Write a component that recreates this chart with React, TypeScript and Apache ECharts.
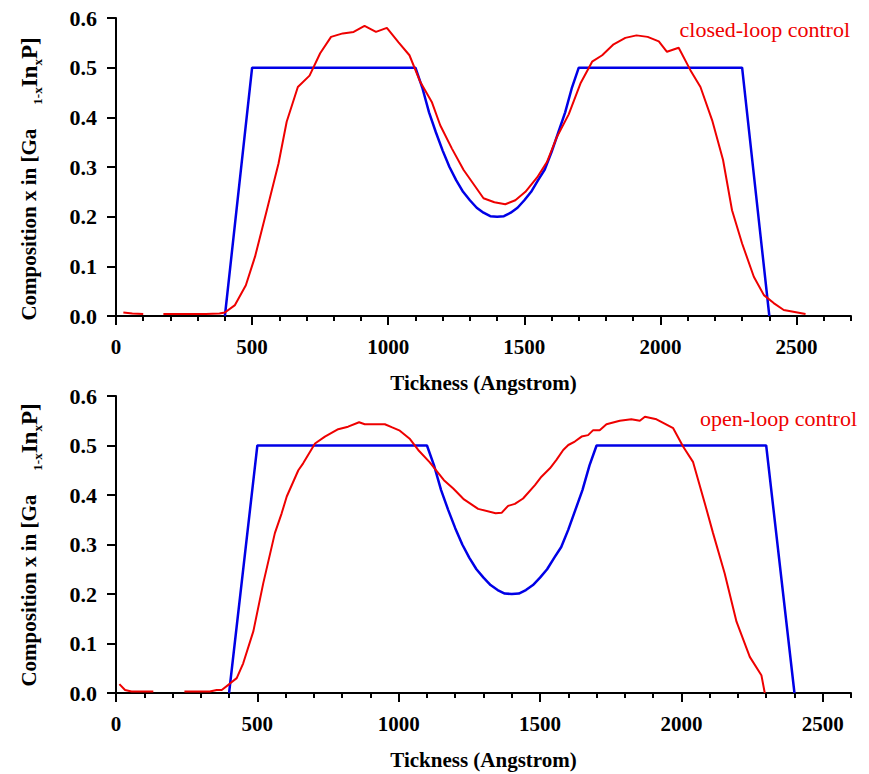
import React, { useEffect, useRef } from "react";
import * as echarts from "echarts";

// ---- data (Angstrom, composition x) ----
const targetProfile: [number, number][] = [
  [400, 0], [500, 0.5], [1100, 0.5], [1125, 0.46], [1150, 0.41], [1175, 0.37], [1200, 0.333],
  [1225, 0.3], [1250, 0.273], [1275, 0.25], [1300, 0.233], [1325, 0.218], [1350, 0.208],
  [1375, 0.201], [1400, 0.2], [1425, 0.201], [1450, 0.208], [1475, 0.218], [1500, 0.233],
  [1525, 0.25], [1550, 0.273], [1575, 0.295], [1600, 0.33], [1625, 0.37], [1650, 0.41],
  [1675, 0.46], [1700, 0.5], [2300, 0.5], [2400, 0],
];

const closedLoopStart: [number, number][] = [[27, 0.007], [60, 0.005], [100, 0.004]];
const closedLoopMain: [number, number][] = [
  [174, 0.004], [250, 0.004], [330, 0.004], [380, 0.005], [400, 0.007], [437, 0.022], [477, 0.062],
  [511, 0.12], [554, 0.213], [597, 0.307], [627, 0.391], [668, 0.461], [711, 0.484], [750, 0.529],
  [790, 0.562], [833, 0.569], [873, 0.572], [913, 0.584], [955, 0.572], [995, 0.58], [1038, 0.551],
  [1078, 0.525], [1118, 0.471], [1160, 0.431], [1191, 0.384], [1234, 0.337], [1277, 0.294],
  [1350, 0.237], [1390, 0.229], [1430, 0.225], [1467, 0.233], [1504, 0.25], [1547, 0.279],
  [1583, 0.31], [1620, 0.361], [1663, 0.406], [1706, 0.468], [1749, 0.512], [1786, 0.525],
  [1828, 0.547], [1871, 0.56], [1912, 0.565], [1953, 0.562], [1994, 0.553], [2024, 0.532],
  [2067, 0.54], [2110, 0.495], [2147, 0.461], [2190, 0.394], [2230, 0.314], [2263, 0.213],
  [2300, 0.146], [2343, 0.079], [2380, 0.042], [2416, 0.026], [2453, 0.012], [2533, 0.004],
];

const openLoopStart: [number, number][] = [[12, 0.018], [32, 0.006], [55, 0.003], [132, 0.003]];
const openLoopMain: [number, number][] = [
  [242, 0.003], [332, 0.003], [356, 0.006], [374, 0.006], [403, 0.019], [427, 0.03], [450, 0.06],
  [486, 0.125], [521, 0.222], [562, 0.323], [586, 0.363], [604, 0.397], [645, 0.45], [662, 0.464],
  [704, 0.504], [739, 0.518], [786, 0.533], [821, 0.538], [860, 0.547], [880, 0.543], [951, 0.543],
  [975, 0.537], [1004, 0.53], [1040, 0.513], [1069, 0.491], [1110, 0.466], [1160, 0.43],
  [1193, 0.413], [1231, 0.391], [1281, 0.372], [1343, 0.363], [1364, 0.364], [1387, 0.378],
  [1411, 0.382], [1440, 0.393], [1482, 0.42], [1505, 0.437], [1535, 0.454], [1558, 0.471],
  [1582, 0.491], [1600, 0.501], [1623, 0.508], [1647, 0.518], [1670, 0.521], [1688, 0.531],
  [1711, 0.531], [1735, 0.543], [1782, 0.55], [1823, 0.553], [1853, 0.55], [1871, 0.558],
  [1912, 0.553], [1971, 0.535], [2006, 0.498], [2041, 0.467], [2083, 0.383], [2112, 0.323],
  [2153, 0.242], [2195, 0.144], [2242, 0.073], [2283, 0.036], [2295, 0.0],
];

const xMajorTicks = [0, 500, 1000, 1500, 2000, 2500];
const xMinorStep = 100;
const xMaxTop = 2700;
const xMaxBottom = 2600;
const xTitle = "Tickness (Angstrom)";
const labelTop = "closed-loop control";
const labelBottom = "open-loop control";

const RED = "#ee0000";
const BLUE = "#0000e6";
const SERIF = "'Liberation Serif', 'Times New Roman', serif";

function minorAxis(grid: number, max: number) {
  return {
    type: "value", gridIndex: grid, position: "bottom", min: 0, max, interval: xMinorStep,
    axisLine: { show: true, onZero: false, lineStyle: { color: "#000", width: 2 } },
    axisTick: { show: true, length: 5, lineStyle: { color: "#000", width: 2 } },
    axisLabel: { show: false },
    splitLine: { show: false },
  };
}
function majorAxis(grid: number, max: number) {
  return {
    type: "value", gridIndex: grid, position: "bottom", min: 0, max,
    name: xTitle, nameLocation: "middle", nameGap: 56,
    nameTextStyle: { fontFamily: SERIF, fontWeight: "bold", fontSize: 21, color: "#000" },
    axisLine: { show: false, onZero: false },
    axisTick: { show: true, customValues: xMajorTicks, length: 9, lineStyle: { color: "#000", width: 2 } },
    axisLabel: { show: true, customValues: xMajorTicks, margin: 20, fontFamily: SERIF, fontWeight: "bold", fontSize: 21, color: "#000",
      formatter: (v: number) => String(v) },
    splitLine: { show: false },
  };
}
function yAxis(grid: number) {
  return {
    type: "value", gridIndex: grid, min: 0, max: 0.6, interval: 0.1,
    axisLine: { show: true, onZero: false, lineStyle: { color: "#000", width: 2 } },
    axisTick: { show: true, length: 9, lineStyle: { color: "#000", width: 2 } },
    axisLabel: { margin: 19, fontFamily: SERIF, fontWeight: "bold", fontSize: 22, color: "#000",
      formatter: (v: number) => v.toFixed(1) },
    splitLine: { show: false },
  };
}
function line(data: [number, number][], color: string, xi: number, yi: number, width: number) {
  return {
    type: "line", data, xAxisIndex: xi, yAxisIndex: yi, showSymbol: false, symbol: "none",
    lineStyle: { color, width }, itemStyle: { color }, silent: true,
  };
}
const yTitleRich = {
  m: { fontFamily: SERIF, fontWeight: "bold", fontSize: 21, lineHeight: 30, color: "#000" },
  g: { width: 24, fontSize: 21, lineHeight: 30 },
  b: { fontFamily: SERIF, fontWeight: "bold", fontSize: 23, lineHeight: 30, color: "#000" },
  s: { fontFamily: SERIF, fontWeight: "bold", fontSize: 13, lineHeight: 14, verticalAlign: "bottom", color: "#000" },
};
const yTitleText = "{m|Composition x in [Ga}{g| }{s|1-x}{b|In}{s|x}{b|P]}";

export default function App() {
  const ref = useRef<HTMLDivElement>(null);
  useEffect(() => {
    if (!ref.current) return;
    const chart = echarts.init(ref.current, null, { renderer: "svg" });
    chart.setOption({
      animation: false,
      backgroundColor: "#fff",
      grid: [
        { left: 116, top: 18, width: 735, height: 298, containLabel: false },
        { left: 116, top: 396, width: 735, height: 297, containLabel: false },
      ],
      xAxis: [
        minorAxis(0, xMaxTop),
        majorAxis(0, xMaxTop),
        minorAxis(1, xMaxBottom),
        majorAxis(1, xMaxBottom),
      ],
      yAxis: [yAxis(0), yAxis(1)],
      series: [
        line(targetProfile, BLUE, 0, 0, 2.5),
        line(closedLoopStart, RED, 0, 0, 2),
        line(closedLoopMain, RED, 0, 0, 2),
        line(targetProfile, BLUE, 2, 1, 2.5),
        line(openLoopStart, RED, 2, 1, 2),
        line(openLoopMain, RED, 2, 1, 2),
      ],
      graphic: [
        { type: "text", x: 29, y: 179, rotation: Math.PI / 2,
          style: { text: yTitleText, rich: yTitleRich, align: "center", verticalAlign: "middle" } },
        { type: "text", x: 29, y: 545, rotation: Math.PI / 2,
          style: { text: yTitleText, rich: yTitleRich, align: "center", verticalAlign: "middle" } },
        { type: "text", x: 850, y: 29,
          style: { text: labelTop, fontFamily: SERIF, fontSize: 22, fill: RED, align: "right", verticalAlign: "middle" } },
        { type: "text", x: 857, y: 418,
          style: { text: labelBottom, fontFamily: SERIF, fontSize: 22, fill: RED, align: "right", verticalAlign: "middle" } },
      ],
    });
    return () => chart.dispose();
  }, []);
  return <div ref={ref} style={{ position: "fixed", left: 0, top: 0, width: 869, height: 774 }} />;
}
